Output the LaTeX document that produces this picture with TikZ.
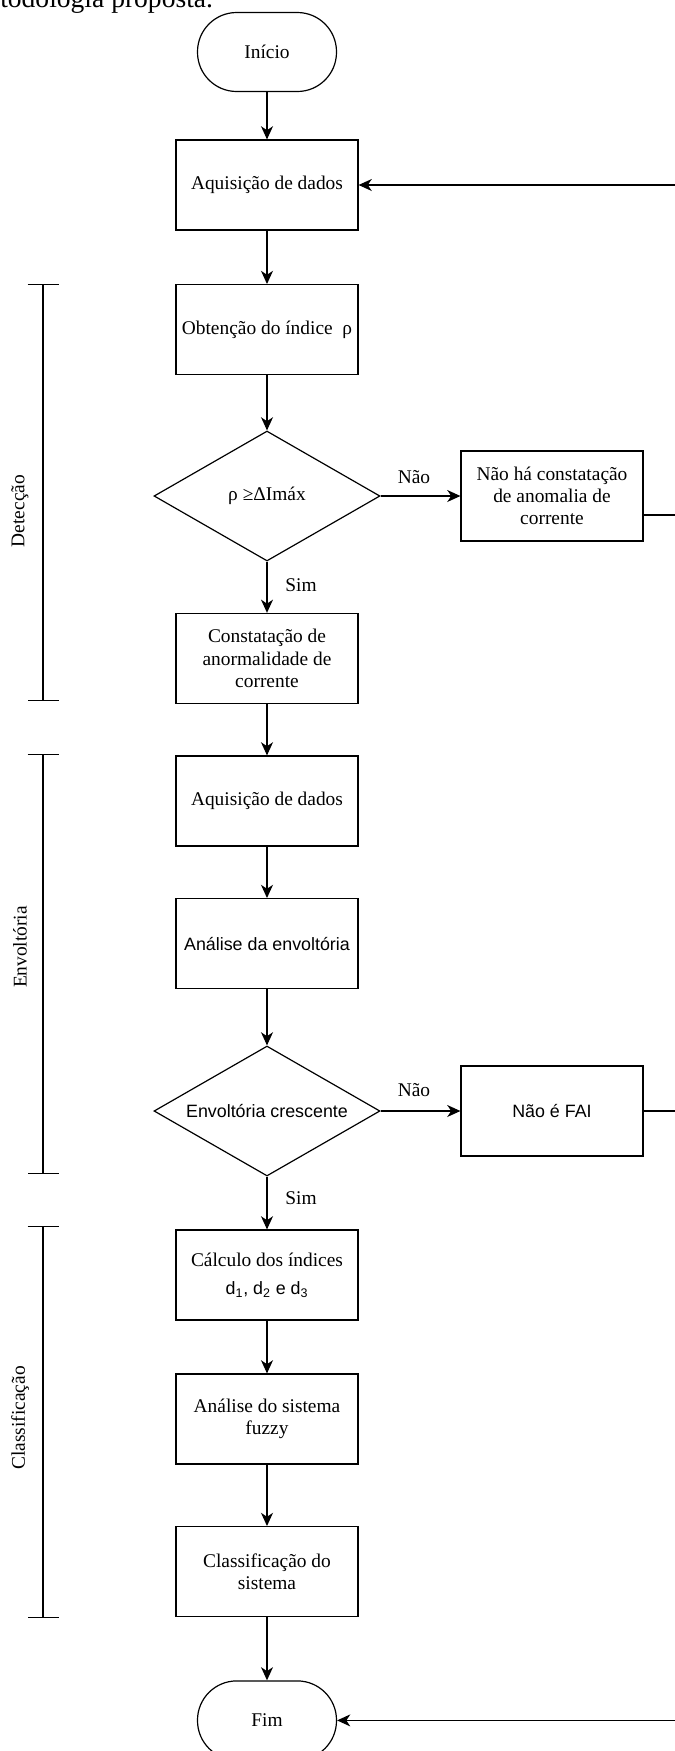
\documentclass[tikz,border=0pt]{standalone}
\usepackage{fontspec}
\setmainfont{Liberation Serif}
\setsansfont{Liberation Sans}
\usetikzlibrary{arrows.meta,shapes.geometric,calc}
\tikzstyle{pb}=[rectangle,draw=black,line width=0.85pt,minimum width=4.55cm,
  minimum height=2.25cm,align=center,font=\fontsize{13.8}{15.8}\selectfont]
\tikzstyle{tm}=[rectangle,rounded corners=0.98cm,draw=black,line width=0.85pt,
  minimum width=3.475cm,minimum height=1.975cm,font=\fontsize{13.8}{15.8}\selectfont]
\tikzstyle{dc}=[diamond,shape aspect=1.74,draw=black,line width=0.85pt,inner sep=0pt,
  minimum width=5.65cm,minimum height=3.25cm,font=\fontsize{13.8}{15.8}\selectfont]
\tikzstyle{sf}=[font=\sffamily\fontsize{12.7}{15}\selectfont]
\tikzstyle{lb}=[inner sep=0pt,font=\fontsize{13.8}{15.8}\selectfont]
\tikzstyle{ar}=[line width=0.85pt,-{Stealth[length=3.3mm,width=3mm,inset=1mm]}]
\tikzstyle{br}=[line width=0.85pt,{Bar[width=7.75mm]}-{Bar[width=7.75mm]}]

\begin{document}
\begin{tikzpicture}
        \useasboundingbox (0,0) rectangle (16.85,-43.775);
        \node[anchor=base west,inner sep=0pt,font=\fontsize{19.6}{22}\selectfont] (cap) at (0,-0.18) {todologia proposta.};
        \node[style=tm] (0) at (6.675,-1.3) {Início};
        \node[style=pb] (1) at (6.675,-4.625) {Aquisição de dados};
        \node[style=pb] (2) at (6.675,-8.24) {Obtenção do índice~~ρ};
        \node[style=dc] (3) at (6.675,-12.4) {ρ ≥ΔImáx};
        \node[style=pb] (4) at (13.8,-12.4) {Não há constatação\\de anomalia de\\corrente};
        \node[style=pb] (5) at (6.675,-16.46) {Constatação de\\anormalidade de\\corrente};
        \node[style=pb] (6) at (6.675,-20.025) {Aquisição de dados};
        \node[style=pb,style=sf] (7) at (6.675,-23.59) {Análise da envoltória};
        \node[style=dc,style=sf] (8) at (6.675,-27.775) {Envoltória crescente};
        \node[style=pb,style=sf] (9) at (13.8,-27.775) {Não é FAI};
        \node[style=pb] (10) at (6.675,-31.875) {Cálculo dos índices\\[0.15cm]{\sffamily\fontsize{12.7}{15}\selectfont d\textsubscript{1}, d\textsubscript{2} e d\textsubscript{3}}};
        \node[style=pb] (11) at (6.675,-35.475) {Análise do sistema\\fuzzy};
        \node[style=pb] (12) at (6.675,-39.29) {Classificação do\\sistema};
        \node[style=tm] (13) at (6.675,-43.01) {Fim};
        \node[style=lb] (n1) at (10.35,-11.925) {Não};
        \node[style=lb] (s1) at (7.525,-14.625) {Sim};
        \node[style=lb] (n2) at (10.35,-27.25) {Não};
        \node[style=lb] (s2) at (7.525,-29.95) {Sim};
        \node[style=lb,rotate=90] (g1) at (0.5,-12.775) {Detecção};
        \node[style=lb,rotate=90] (g2) at (0.5,-23.675) {Envoltória};
        \node[style=lb,rotate=90] (g3) at (0.5,-35.45) {Classificação};
        \coordinate (b1) at (1.075,-7.1);
        \coordinate (b2) at (1.075,-17.525);
        \coordinate (b3) at (1.075,-18.85);
        \coordinate (b4) at (1.075,-29.35);
        \coordinate (b5) at (1.075,-30.65);
        \coordinate (b6) at (1.075,-40.45);
        \coordinate (r1) at (17.05,-12.875);
        \coordinate (r2) at (17.05,-27.775);
        \draw[style=ar] (0) to (1);
        \draw[style=ar] (1) to (2);
        \draw[style=ar] (2) to (3);
        \draw[style=ar] (3) to (4);
        \draw[style=ar] (3) to (5);
        \draw[style=ar] (5) to (6);
        \draw[style=ar] (6) to (7);
        \draw[style=ar] (7) to (8);
        \draw[style=ar] (8) to (9);
        \draw[style=ar] (8) to (10);
        \draw[style=ar] (10) to (11);
        \draw[style=ar] (11) to (12);
        \draw[style=ar] (12) to (13);
        \draw[style=ar] ([yshift=-0.475cm]4.east) -- (r1) |- (1.east);
        \draw[style=ar] (9.east) -- (r2) |- (13.east);
        \draw[style=br] (b1) to (b2);
        \draw[style=br] (b3) to (b4);
        \draw[style=br] (b5) to (b6);
    \end{tikzpicture}
\end{document}
